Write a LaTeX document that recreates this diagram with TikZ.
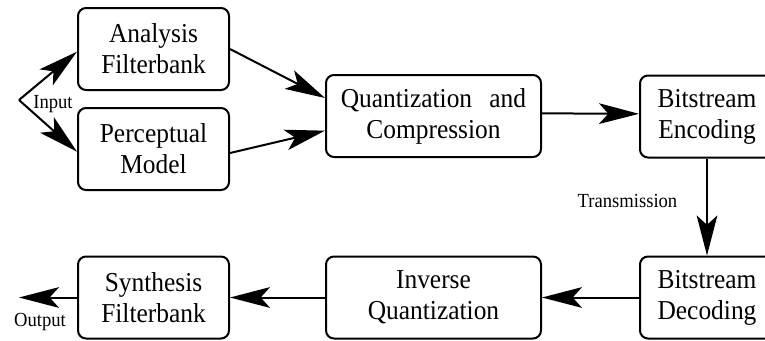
\documentclass[tikz,border=0pt]{standalone}
\usepackage{fontspec}
\setmainfont{Liberation Serif}[FakeStretch=0.93]
\usetikzlibrary{arrows.meta}
\begin{document}
\begin{tikzpicture}[x=0.75pt,y=-0.75pt,
  block/.style={draw, line width=1.5pt, rounded corners=6pt, align=center,
    minimum height=61.5pt, inner sep=0pt,
    font=\fontsize{20.5}{23.3}\selectfont},
  narrow/.style={block, minimum width=113.25pt},
  wide/.style={block, minimum width=161.25pt},
  edge/.style={block, minimum width=100.5pt},
  flow/.style={line width=1.5pt, -{Stealth[length=30pt,width=15.5pt,inset=7pt]}},
  tag/.style={font=\fontsize{15}{17}\selectfont, anchor=base, inner sep=0pt}]
  \useasboundingbox (0,0) rectangle (765,340);

  % encoder row
  \node[narrow] (ana) at (153.5,49) {Analysis\\Filterbank};
  \node[narrow] (per) at (153.5,149) {Perceptual\\Model};
  \node[wide] (qnt) at (433.5,116) {Quantization\hspace{0.4em} and\\Compression};
  \node[edge] (enc) at (707,116.5) {Bitstream\\Encoding};

  % decoder row
  \node[edge] (dec) at (707,297.5) {Bitstream\\Decoding};
  \node[wide] (inv) at (433.5,297.5) {Inverse\\Quantization};
  \node[narrow] (syn) at (153.5,297.5) {Synthesis\\Filterbank};

  \coordinate (in) at (19,100);
  \coordinate (out) at (19,297.5);

  % labels
  \node[tag] (lin) at (53,108) {Input};
  \node[tag] (ltx) at (627.5,207) {Transmission};
  \node[tag] (lout) at (40,326) {Output};

  % connectors
  \draw[flow] (in) -- ([yshift=-2pt]ana.west);
  \draw[flow] (in) -- ([yshift=-2pt]per.west);
  \draw[flow] (ana.east) -- ([yshift=13.5pt]qnt.west);
  \draw[flow] ([yshift=-3pt]per.east) -- ([yshift=-11pt]qnt.west);
  \draw[flow] ([yshift=2pt]qnt.east) -- ([yshift=2pt]enc.west);
  \draw[flow] (enc.south) -- (dec.north);
  \draw[flow] (dec.west) -- (inv.east);
  \draw[flow] (inv.west) -- (syn.east);
  \draw[flow] (syn.west) -- (out);
\end{tikzpicture}
\end{document}
